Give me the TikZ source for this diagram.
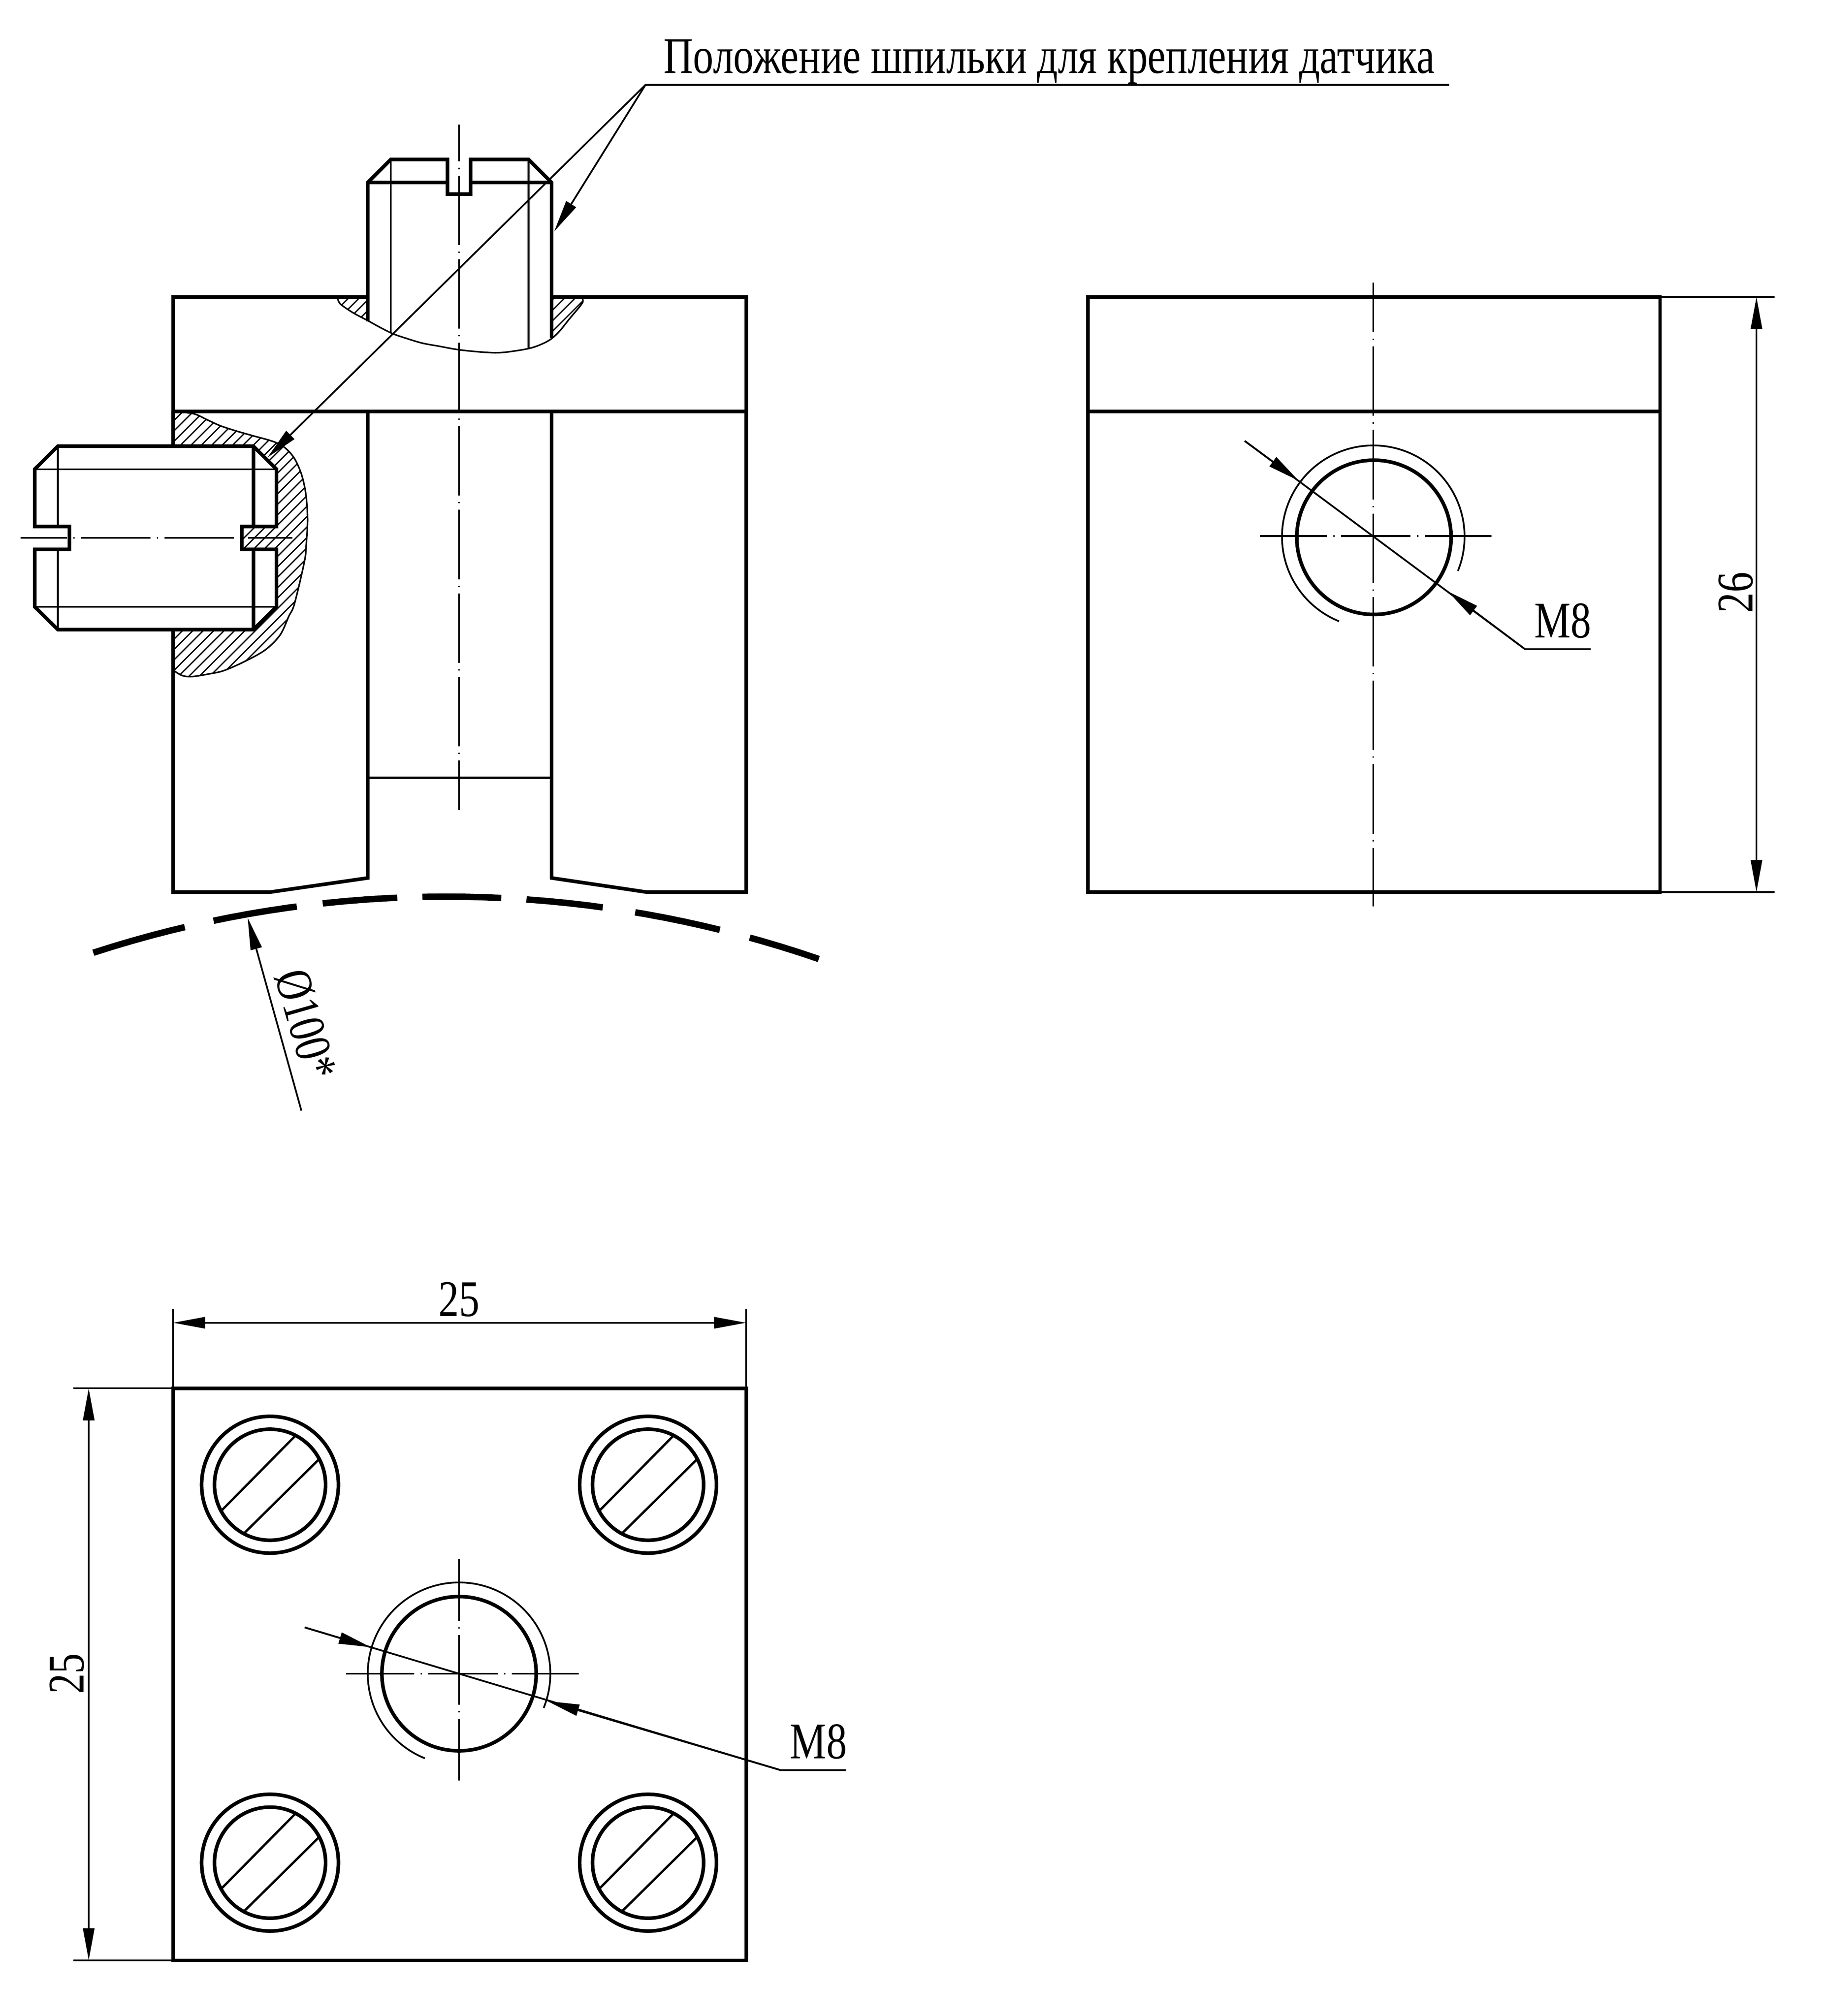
\documentclass[tikz,border=0pt]{standalone}
\usepackage{fontspec}
\setmainfont{Liberation Serif}
\newfontfamily\dr[FakeStretch=0.795]{Liberation Serif}
\usetikzlibrary{arrows.meta}
\tikzset{
  thickl/.style={line width=2.8pt,line join=miter},
  medl/.style={line width=1.8pt},
  thinl/.style={line width=1.35pt},
  brkl/.style={line width=1.2pt},
  hatchl/.style={line width=1pt},
  axisl/.style={line width=1.35pt,dash pattern=on 54pt off 5pt on 1pt off 5pt},
  tip/.style={-{Triangle[length=25pt,width=8.8pt]},line width=1.35pt,shorten >=0pt},
  dimtip/.style={{Triangle[length=25pt,width=8.8pt]}-{Triangle[length=25pt,width=8.8pt]},line width=1.35pt},
  lbl/.style={inner sep=0pt,font=\dr\fontsize{40}{40}\selectfont},
  arcl/.style={line width=5pt},
  brkcurve/.style={smooth,tension=.55}
}
\newcommand{\holeview}[1]{%
  \draw[thickl] (#1) circle [radius=60];
}
\newcommand{\screwhead}[3]{%
  \coordinate (#1) at (#2,#3);
  \draw[thickl] (#1) circle [radius=53.2];
  \draw[thickl] (#1) circle [radius=43.2];
  \draw[medl] (#2+20,#3-38.4) -- (#2-38.7,#3+21.1);
  \draw[medl] (#2+38.7,#3-20.4) -- (#2-21,#3+38.6);
}
\newcommand{\arcdash}[2]{%
  \draw[arcl] plot[domain=#1:#2,samples=20,smooth] ({347.4+887.5*cos(\x)},{1585-887.5*sin(\x)});
}
\begin{document}
\begin{tikzpicture}[x=1pt,y=-1pt]
\useasboundingbox (0,0) rectangle (1419,1568.3);
% ---------- hatching
\begin{scope}
  \clip (262,231) -- (262.6,232.6) -- (264.5,236.3) -- (269.7,240.2) -- (276.3,244.3) -- (286,249.4) -- (286,231) -- cycle;
  \foreach \k in {0,...,5} \draw[hatchl] ({503+8.2*\k-320},320) -- ({503+8.2*\k-200},200);
\end{scope}
\begin{scope}
  \clip (429,231) -- (453.6,231) -- (453.3,234.8) -- (450.7,238.7) -- (442.9,248) -- (435.1,257.7) -- (428.6,263.7) -- cycle;
  \foreach \k in {-2,...,3} \draw[hatchl] ({671+8.2*\k-320},320) -- ({671+8.2*\k-200},200);
\end{scope}
\begin{scope}
  \clip plot[brkcurve] coordinates {(134.6,320) (150.7,321.9) (161.4,326.7) (171.1,331.1) (182.8,335) (196.4,338.9) (212,343.3) (220.7,347.6) (228.5,355.9) (234.3,368.5) (237.8,384) (239.2,403.5) (238.2,423) (236.8,436.6) (229,469.7) (224.6,479.4) (217.8,494) (206.1,505.7) (189.6,514.9) (174,521.7) (163.4,524.1) (149.7,526.3) (142,525.6) (136,522.2) (134.6,520)};
  \foreach \k in {-4,...,40} \draw[hatchl] ({486.7+8.1*\k-560},560) -- ({486.7+8.1*\k-300},300);
\end{scope}
% ---------- front view
\draw[thickl] (134.6,320) -- (134.6,231) -- (286,231) (429,231) -- (580.3,231) -- (580.3,320);
\draw[thickl] (134.6,320) -- (580.3,320);
\draw[thickl] (286,320) -- (286,683) -- (210,694) -- (134.6,694) -- (134.6,320);
\draw[thickl] (429,320) -- (429,683) -- (503,694) -- (580.3,694) -- (580.3,320);
\draw[medl] (286,605) -- (429,605);
% break line, upper
\draw[brkl] plot[brkcurve] coordinates {(262.6,232.6) (264.5,236.3) (269.7,240.2) (276.3,244.3) (286,249.4) (295.8,254.8) (305.5,259.6) (315.3,263) (328.3,266.9) (341.3,269.3) (357,272.1) (376.5,274) (390.8,274.2) (410.4,271.3) (420.8,267.9) (428.6,263.7) (435.1,257.7) (442.9,248) (450.7,238.7) (453.3,234.8) (453,232.6)};
% vertical screw
\draw[thickl] (286,250) -- (286,142) -- (304,124) -- (348,124) -- (348,151) -- (366,151) -- (366,124) -- (411,124) -- (429,142) -- (429,263);
\draw[thickl] (286,142) -- (348,142) (366,142) -- (429,142);
\draw[thinl] (304,124) -- (304,259) (411,124) -- (411,271);
\draw[axisl,dash phase=25.4] (357,97) -- (357,630);
% break line, side
\draw[brkl] plot[brkcurve] coordinates {(134.6,320) (150.7,321.9) (161.4,326.7) (171.1,331.1) (182.8,335) (196.4,338.9) (212,343.3) (220.7,347.6) (228.5,355.9) (234.3,368.5) (237.8,384) (239.2,403.5) (238.2,423) (236.8,436.6) (229,469.7) (224.6,479.4) (217.8,494) (206.1,505.7) (189.6,514.9) (174,521.7) (163.4,524.1) (149.7,526.3) (142,525.6) (136,522.2) (134.6,520)};
% side screw
\draw[thickl,fill=white] (45,347.1) -- (197,347.1) -- (215,365) -- (215,409.6) -- (188,409.6) -- (188,427.4) -- (215,427.4) -- (215,472) -- (197,489.8) -- (45,489.8) -- (27,472) -- (27,427.4) -- (54,427.4) -- (54,409.6) -- (27,409.6) -- (27,365) -- cycle;
\draw[thickl] (197,347.1) -- (197,409.6) (197,427.4) -- (197,489.8);
\draw[thinl] (27,365) -- (215,365) (27,472) -- (215,472);
\draw[thinl] (45,347.1) -- (45,409.6) (45,427.4) -- (45,489.8);
\draw[axisl,dash phase=18] (16,418.4) -- (227.4,418.4);
% leader, top
\node[lbl,anchor=base west] (title) at (516,57) {Положение шпильки для крепления датчика};
\coordinate (ldA) at (1127,66);
\coordinate (ldB) at (502,66);
\coordinate (tipA) at (431,180);
\coordinate (tipB) at (208,355.9);
\draw[line width=1.8pt] (ldA) -- (ldB);
\draw[tip] (ldB) -- (tipA);
\draw[tip] (ldB) -- (tipB);
% big arc
\arcdash{108.04}{103.27}
\arcdash{101.79}{97.55}
\arcdash{96.24}{92.48}
\arcdash{91.22}{87.26}
\arcdash{85.99}{82.14}
\arcdash{80.49}{76.15}
\arcdash{74.6}{70.97}
\coordinate (phiA) at (234.4,864);
\coordinate (phiB) at (192.6,714);
\draw[tip] (phiA) -- (phiB);
\node[lbl,rotate=-74] (phi) at (238,797) {Ø100*};
% ---------- right view
\draw[thickl] (846,231) rectangle (1291,694);
\draw[thickl] (846,320) -- (1291,320);
\draw[axisl,dash phase=15.5] (1068,220) -- (1068,705);
\draw[axisl,dash phase=2] (980,417) -- (1160,417);
\coordinate (cR) at (1068.5,418);
\holeview{cR}
\draw[thinl] plot[domain=-22:248,samples=80,smooth] ({1068+71*cos(\x)},{417.5-71*sin(\x)});
\coordinate (mA) at (968,343);
\coordinate (mTip1) at (1010,374);
\coordinate (mTip2) at (1126,460);
\coordinate (mB) at (1186,505);
\coordinate (mC) at (1237,505);
\draw[thinl] (mA) -- (mB) -- (mC);
\draw[tip] (mA) -- (mTip1);
\draw[tip] (mB) -- (mTip2);
\node[lbl,anchor=base] (mR) at (1215.5,496) {M8};
% dim 26
\coordinate (e1) at (1380,231);
\coordinate (e2) at (1380,694);
\coordinate (e1b) at (1291,231);
\coordinate (e2b) at (1291,694);
\draw[thinl] (e1b) -- (e1) (e2b) -- (e2);
\coordinate (d1) at (1366,231);
\coordinate (d2) at (1366,694);
\draw[dimtip] (d1) -- (d2);
\node[lbl,rotate=90,anchor=base] (d26) at (1363,461) {26};
% ---------- bottom view
\draw[thickl] (134.6,1080) rectangle (580.3,1525);
\screwhead{s1}{210}{1155}
\screwhead{s2}{504}{1155}
\screwhead{s3}{210}{1449}
\screwhead{s4}{504}{1449}
\coordinate (cB) at (357,1302);
\holeview{cB}
\draw[thinl] plot[domain=-22:248,samples=80,smooth] ({357+71*cos(\x)},{1302-71*sin(\x)});
\draw[axisl,dash phase=1] (269,1302) -- (450,1302);
\draw[axisl,dash phase=6] (357,1213) -- (357,1385);
\coordinate (nA) at (237,1266);
\coordinate (nTip1) at (288.4,1281.4);
\coordinate (nTip2) at (425.6,1323.3);
\coordinate (nB) at (607,1377);
\coordinate (nC) at (658,1377);
\draw[thinl] (nA) -- (nB) -- (nC);
\draw[tip] (nA) -- (nTip1);
\draw[tip] (nB) -- (nTip2);
\node[lbl,anchor=base] (mB2) at (636.5,1368) {M8};
% dims 25
\coordinate (t1) at (134.6,1018);
\coordinate (t2) at (580.3,1018);
\coordinate (t1b) at (134.6,1080);
\coordinate (t2b) at (580.3,1080);
\draw[thinl] (t1b) -- (t1) (t2b) -- (t2);
\coordinate (u1) at (134.6,1029);
\coordinate (u2) at (580.3,1029);
\draw[dimtip] (u1) -- (u2);
\node[lbl,anchor=base] (d25a) at (357,1024) {25};
\coordinate (l1) at (57,1080);
\coordinate (l2) at (57,1525);
\coordinate (l1b) at (134.6,1080);
\coordinate (l2b) at (134.6,1525);
\draw[thinl] (l1b) -- (l1) (l2b) -- (l2);
\coordinate (v1) at (69,1080);
\coordinate (v2) at (69,1525);
\draw[dimtip] (v1) -- (v2);
\node[lbl,rotate=90,anchor=base] (d25b) at (65,1302) {25};
\end{tikzpicture}
\end{document}
